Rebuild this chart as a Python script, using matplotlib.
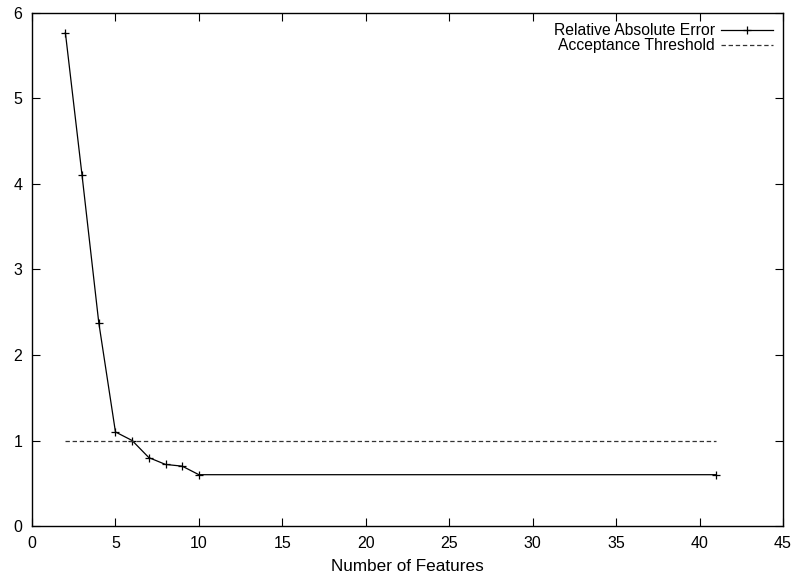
import matplotlib
matplotlib.use('Agg')
import matplotlib.pyplot as plt

plt.rcParams['font.family'] = ['Liberation Sans', 'DejaVu Sans']

# number of features vs relative absolute error
features = [2, 3, 4, 5, 6, 7, 8, 9, 10, 41]
rel_abs_error = [5.77, 4.10, 2.38, 1.10, 1.00, 0.80, 0.72, 0.70, 0.60, 0.60]

threshold_x = [2, 41]
threshold_y = [1.0, 1.0]

fig = plt.figure(figsize=(8.08, 5.8), dpi=100)
ax = fig.add_axes([0.0396, 0.0931, 0.9295, 0.8845])

ax.plot(features, rel_abs_error, color='black', lw=0.9, marker='+',
        markersize=6, markeredgewidth=0.9, label='Relative Absolute Error')
ax.plot(threshold_x, threshold_y, color='#333333', lw=0.9,
        dashes=(3.5, 2.2), label='Acceptance Threshold')

ax.set_xlim(0, 45)
ax.set_ylim(0, 6)
ax.set_xticks(range(0, 46, 5))
ax.set_yticks(range(0, 7))
ax.tick_params(direction='in', top=True, right=True, length=6, width=0.8,
               labelsize=11.5, pad=7)
for s in ax.spines.values():
    s.set_linewidth(1.0)

ax.set_xlabel('Number of Features', fontsize=12.3, labelpad=6)

leg = ax.legend(loc='upper right', frameon=False, markerfirst=False,
                fontsize=11.3, handlelength=3.3, handletextpad=0.4,
                labelspacing=0.0, borderaxespad=0.25)

plt.savefig('out.png', dpi=100)
